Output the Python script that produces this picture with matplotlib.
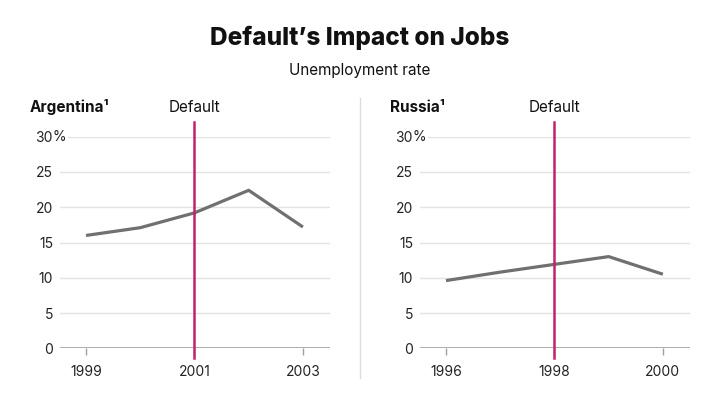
import matplotlib
matplotlib.use("Agg")
import matplotlib.pyplot as plt
from matplotlib.lines import Line2D

plt.rcParams["font.family"] = ["Inter", "DejaVu Sans"]

# Data
arg_years = [1999, 2000, 2001, 2002, 2003]
arg_rate = [16.0, 17.1, 19.2, 22.4, 17.2]
rus_years = [1996, 1997, 1998, 1999, 2000]
rus_rate = [9.6, 10.8, 11.9, 13.0, 10.5]

arg_ticks = [1999, 2001, 2003]
rus_ticks = [1996, 1998, 2000]
y_ticks = [0, 5, 10, 15, 20, 25, 30]

arg_default = 2001
rus_default = 1998

W, H = 720, 399
LINE_COLOR = "#707070"
DEFAULT_COLOR = "#c2226a"
GRID_COLOR = "#e3e3e3"

fig = plt.figure(figsize=(W / 100, H / 100), dpi=100)

fig.text(0.5, 1 - 38 / H, "Default\u2019s Impact on Jobs", ha="center", va="center",
         fontsize=17.5, fontweight="heavy", color="#111111")
fig.text(0.5, 1 - 70 / H, "Unemployment rate", ha="center", va="center",
         fontsize=11, color="#111111")

# divider between panels
fig.add_artist(Line2D([360 / W, 360 / W], [1 - 98 / H, 1 - 378 / H],
                      color="#dcdcdc", linewidth=1))


def draw_panel(x0, name, years, rate, ticks, default_year):
    ax = fig.add_axes([(x0 + 60) / W, (H - 348.3) / H, 270 / W, 211.6 / H])
    lo, hi = ticks[0] - 0.48, ticks[-1] + 0.5
    ax.set_xlim(lo, hi)
    ax.set_ylim(0, 30)
    for s in ax.spines.values():
        s.set_visible(False)

    for v in y_ticks[1:]:
        start = 0.03 if v == 30 else 0.0
        ax.axhline(v, xmin=start, xmax=1, color=GRID_COLOR, linewidth=1, zorder=1)
    ax.axhline(0, color="#a0a0a0", linewidth=1.2, zorder=2)

    ax.set_yticks(y_ticks)
    ax.set_yticklabels([str(v) for v in y_ticks])
    ax.set_xticks(ticks)
    ax.set_xticklabels([str(t) for t in ticks])
    ax.tick_params(axis="y", length=0, pad=5, labelsize=10, labelcolor="#222222")
    ax.tick_params(axis="x", length=5, width=1, color="#a0a0a0", pad=7,
                   labelsize=10, labelcolor="#222222")
    ax.annotate("%", xy=(0, 30), xycoords=("axes fraction", "data"),
                xytext=(-5.5, 0), textcoords="offset points",
                ha="left", va="center", fontsize=10, color="#222222")

    ax.plot(years, rate, color=LINE_COLOR, linewidth=2.3, zorder=3,
            solid_capstyle="butt")
    ax.plot([default_year, default_year], [-1.4, 32.1], color=DEFAULT_COLOR,
            linewidth=1.8, zorder=4, clip_on=False)

    dx = ax.transData.transform((default_year, 0))[0]
    fig.text(dx / (fig.dpi * fig.get_figwidth()), 1 - 107 / H, "Default",
             ha="center", va="center", fontsize=11, color="#111111")
    fig.text((x0 + 30) / W, 1 - 107 / H, name, ha="left", va="center",
             fontsize=11, fontweight="bold", color="#111111")
    return ax


draw_panel(0, "Argentina\u00b9", arg_years, arg_rate, arg_ticks, arg_default)
draw_panel(360, "Russia\u00b9", rus_years, rus_rate, rus_ticks, rus_default)

fig.savefig("out.png", dpi=100)
